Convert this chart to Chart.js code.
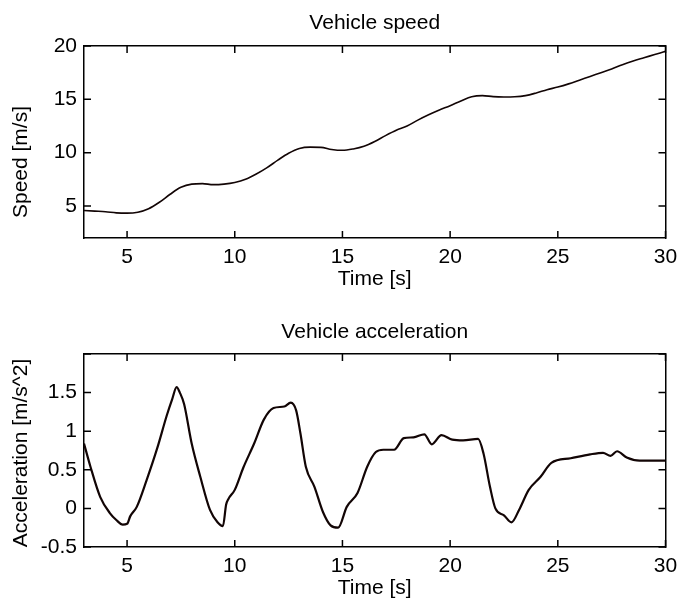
<!DOCTYPE html>
<html>
<head>
<meta charset="utf-8">
<script src="https://cdn.jsdelivr.net/npm/chart.js@4/dist/chart.umd.min.js"></script>
<style>
	body { margin: 0; background: #fff; }
	#wrap { position: relative; width: 677px; height: 603px; }
	canvas { position: absolute; left: 0; }
	#speed { top: 0; }
	#accel { top: 300px; }
</style>
</head>
<body>
<div id="wrap">
	<canvas id="speed" width="677" height="300"></canvas>
	<canvas id="accel" width="677" height="303"></canvas>
</div>
<script>
// data
const speedTime = [3, 3.5, 4, 4.5, 5, 5.5, 6, 6.5, 7, 7.5, 8, 8.5, 9, 9.5, 10, 10.5, 11, 11.5, 12, 12.5,
	13, 13.5, 14, 14.5, 15, 15.5, 16, 16.5, 17, 17.5, 18, 18.5, 19, 19.5, 20, 20.5, 21, 21.5, 22, 22.5,
	23, 23.5, 24, 24.5, 25, 25.5, 26, 26.5, 27, 27.5, 28, 28.5, 29, 29.5, 30]
const speed = [4.58, 4.52, 4.46, 4.36, 4.33, 4.42, 4.75, 5.35, 6.1, 6.75, 7.05, 7.1, 7.0, 7.05, 7.2, 7.5, 8.0, 8.6, 9.3, 9.95,
	10.4, 10.52, 10.5, 10.3, 10.22, 10.35, 10.6, 11.05, 11.6, 12.1, 12.5, 13.05, 13.55, 14.0, 14.4, 14.85, 15.25, 15.35, 15.25, 15.22,
	15.24, 15.35, 15.6, 15.9, 16.15, 16.45, 16.8, 17.15, 17.5, 17.85, 18.25, 18.6, 18.9, 19.2, 19.5]

const accTime = [3, 3.3, 3.75, 4.2, 4.5, 4.8, 5.0, 5.15, 5.45, 5.9, 6.4, 6.85, 7.1, 7.3, 7.45, 7.65, 8.0, 8.4, 8.85, 9.2,
	9.45, 9.6, 9.7, 10.0, 10.4, 10.9, 11.35, 11.8, 12.3, 12.6, 12.85, 13.05, 13.3, 13.7, 14.1, 14.45, 14.8, 15.2, 15.7, 16.15,
	16.55, 16.9, 17.4, 17.85, 18.3, 18.8, 19.15, 19.6, 20.1, 20.6, 21.3, 21.55, 21.85, 22.1, 22.5, 22.85, 23.2, 23.65, 24.2, 24.7,
	25.6, 26.5, 27.1, 27.45, 27.75, 28.2, 28.8, 29.4, 30]
const accel = [0.84, 0.54, 0.15, -0.06, -0.15, -0.21, -0.2, -0.1, 0.02, 0.36, 0.78, 1.21, 1.42, 1.57, 1.5, 1.35, 0.84, 0.41, -0.02, -0.18,
	-0.23, 0.05, 0.12, 0.24, 0.53, 0.84, 1.15, 1.3, 1.32, 1.37, 1.27, 0.97, 0.54, 0.28, -0.05, -0.22, -0.25, 0.02, 0.2, 0.54,
	0.73, 0.76, 0.76, 0.91, 0.92, 0.96, 0.83, 0.95, 0.89, 0.88, 0.9, 0.71, 0.28, 0.0, -0.09, -0.18, -0.02, 0.24, 0.41, 0.59,
	0.65, 0.7, 0.72, 0.68, 0.74, 0.66, 0.62, 0.62, 0.62]

const FONT = '"Liberation Sans", Arial, sans-serif'
Chart.defaults.font.family = FONT
Chart.defaults.font.size = 21
Chart.defaults.color = '#000'

// rotated y label, placed by hand like the original figure
const yLabelPlugin = {
	id: 'yLabel',
	afterDraw(chart, args, opts) {
		const ctx = chart.ctx
		ctx.save()
		ctx.font = '21px ' + FONT
		ctx.fillStyle = '#000'
		ctx.textAlign = 'center'
		ctx.textBaseline = 'middle'
		ctx.translate(opts.x, opts.y)
		ctx.rotate(-Math.PI / 2)
		ctx.fillText(opts.text, 0, 0)
		ctx.restore()
	}
}

// matlab style tick marks pointing into the box, on all four sides
const innerTicksPlugin = {
	id: 'innerTicks',
	afterDraw(chart) {
		const ctx = chart.ctx
		const { left, right, top, bottom } = chart.chartArea
		const len = 7
		ctx.save()
		ctx.strokeStyle = '#000'
		ctx.lineWidth = 1.5
		ctx.beginPath()
		for (const t of chart.scales.x.ticks) {
			const px = chart.scales.x.getPixelForValue(t.value)
			ctx.moveTo(px, bottom)
			ctx.lineTo(px, bottom - len)
			ctx.moveTo(px, top)
			ctx.lineTo(px, top + len)
		}
		for (const t of chart.scales.y.ticks) {
			const py = chart.scales.y.getPixelForValue(t.value)
			ctx.moveTo(left, py)
			ctx.lineTo(left + len, py)
			ctx.moveTo(right, py)
			ctx.lineTo(right - len, py)
		}
		ctx.stroke()
		ctx.restore()
	}
}

function boxAxis(extra) {
	return Object.assign({
		grid: { drawOnChartArea: false, drawTicks: false },
		border: { display: true, color: '#000', width: 1.5 },
	}, extra)
}

function makeChart(id, o) {
	const points = o.x.map((t, i) => ({ x: t, y: o.y[i] }))
	return new Chart(document.getElementById(id), {
		type: 'line',
		data: {
			datasets: [{
				data: points,
				borderColor: '#120505',
				borderWidth: o.lineWidth,
				pointRadius: 0,
				cubicInterpolationMode: 'monotone',
				fill: false,
			}],
		},
		plugins: [yLabelPlugin, innerTicksPlugin],
		options: {
			responsive: false,
			animation: false,
			devicePixelRatio: 1,
			layout: { padding: 0 },
			plugins: {
				legend: { display: false },
				tooltip: { enabled: false },
				title: {
					display: true,
					text: o.title,
					fullSize: false,
					font: { size: 21, weight: 'normal' },
					color: '#000',
					padding: o.titlePad,
				},
				yLabel: { text: o.yLabel, x: 21, y: o.yLabelY },
			},
			scales: {
				x: boxAxis({
					type: 'linear',
					position: 'bottom',
					min: 3,
					max: 30,
					ticks: { stepSize: 5, includeBounds: false, padding: 7, maxRotation: 0 },
					title: { display: true, text: 'Time [s]', padding: { top: 0, bottom: o.xTitlePad } },
					afterFit: (s) => {
						s.height = o.xHeight
						s.paddingLeft = 0
						s.paddingRight = 11.5
					},
				}),
				x2: boxAxis({
					type: 'linear',
					position: 'top',
					min: 3,
					max: 30,
					ticks: { display: false },
					afterFit: (s) => { s.height = 0; s.paddingLeft = 0; s.paddingRight = 0 },
				}),
				y: boxAxis({
					position: 'left',
					min: o.yMin,
					max: o.yMax,
					ticks: { stepSize: o.yStep, includeBounds: false, padding: 7, callback: o.yFmt },
					afterFit: (s) => { s.width = 84 },
				}),
				y2: boxAxis({
					position: 'right',
					min: o.yMin,
					max: o.yMax,
					ticks: { display: false },
					afterFit: (s) => { s.width = 0 },
				}),
			},
		},
	})
}

makeChart('speed', {
	x: speedTime, y: speed,
	title: 'Vehicle speed',
	titlePad: { top: 10.4, bottom: 10.4 },
	yLabel: 'Speed [m/s]', yLabelY: 162,
	yMin: 2, yMax: 20, yStep: 5,
	yFmt: (v) => String(v),
	xHeight: 62, xTitlePad: 8.4,
	lineWidth: 1.6,
})

makeChart('accel', {
	x: accTime, y: accel,
	title: 'Vehicle acceleration',
	titlePad: { top: 19.4, bottom: 9.4 },
	yLabel: 'Acceleration [m/s^2]', yLabelY: 153,
	yMin: -0.5, yMax: 2, yStep: 0.5,
	yFmt: (v) => (v === 2 ? '' : String(v)),
	xHeight: 56, xTitlePad: 2.4,
	lineWidth: 2.2,
})
</script>
</body>
</html>
